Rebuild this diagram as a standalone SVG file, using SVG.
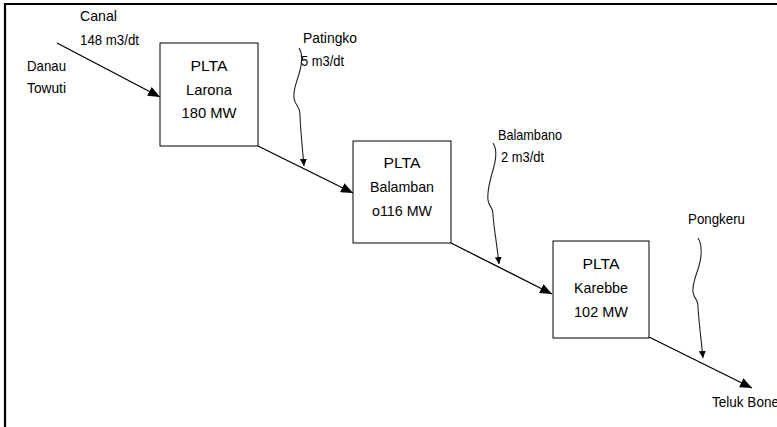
<svg xmlns="http://www.w3.org/2000/svg" width="777" height="427" viewBox="0 0 777 427">
  <defs>
    <marker id="arr" viewBox="0 0 12 10" refX="12" refY="5" markerWidth="12" markerHeight="10" markerUnits="userSpaceOnUse" orient="auto">
      <path d="M0,0 L12,5 L0,10 Z" fill="#000"/>
    </marker>
    <marker id="arrs" viewBox="0 0 7 7" refX="7" refY="3.5" markerWidth="7" markerHeight="7" markerUnits="userSpaceOnUse" orient="auto">
      <path d="M0,0 L7,3.5 L0,7 Z" fill="#000"/>
    </marker>
    <style>
      text { font-family: "Liberation Sans", Arial, sans-serif; font-size: 15px; fill: #000; }
      .box rect { fill: #fff; stroke: #000; stroke-width: 1; }
      .box text { text-anchor: middle; }
      .main { stroke: #000; stroke-width: 1.3; fill: none; marker-end: url(#arr); }
      .wave { stroke: #222; stroke-width: 1.1; fill: none; marker-end: url(#arrs); }
      .frame { stroke: #000; stroke-width: 2.2; fill: none; }
    </style>
  </defs>
  <rect width="777" height="427" fill="#fff"/>
  <path class="frame" d="M5,427 L5,4 L777,4"/>

  <g id="connectors">
    <line class="main" x1="57" y1="43" x2="160" y2="97"/>
    <line class="main" x1="258" y1="146" x2="353" y2="193"/>
    <line class="main" x1="451" y1="243" x2="552" y2="294"/>
    <line class="main" x1="649" y1="337" x2="752" y2="388"/>
    <path class="wave" d="M299,48 C303,54 302,64 299,74 S293,90 294,98 S300,106 300,114 S302,145 304,166"/>
    <path class="wave" d="M493,143 C497,149 496,160 493,170 S487,192 488,200 S493,206 493,214 S497,245 499,264"/>
    <path class="wave" d="M698,238 C702,244 702,256 699,266 S692,284 693,292 S698,298 698,306 S701,338 703,358"/>
  </g>

  <g id="src">
    <text x="27" y="71" textLength="39" lengthAdjust="spacingAndGlyphs">Danau</text>
    <text x="27" y="93" textLength="39" lengthAdjust="spacingAndGlyphs">Towuti</text>
  </g>
  <g id="canal">
    <text x="80" y="21" textLength="37" lengthAdjust="spacingAndGlyphs">Canal</text>
    <text x="80" y="45" textLength="59" lengthAdjust="spacingAndGlyphs">148 m3/dt</text>
  </g>
  <g id="larona" class="box">
    <rect x="160" y="43" width="98" height="103"/>
    <text x="209" y="71" textLength="37" lengthAdjust="spacingAndGlyphs">PLTA</text>
    <text x="209" y="95" textLength="46" lengthAdjust="spacingAndGlyphs">Larona</text>
    <text x="209" y="118" textLength="55" lengthAdjust="spacingAndGlyphs">180 MW</text>
  </g>
  <g id="balambano" class="box">
    <rect x="353" y="141" width="98" height="102"/>
    <text x="402" y="168" textLength="37" lengthAdjust="spacingAndGlyphs">PLTA</text>
    <text x="402" y="192" textLength="64" lengthAdjust="spacingAndGlyphs">Balamban</text>
    <text x="402" y="216" textLength="60" lengthAdjust="spacingAndGlyphs">o116 MW</text>
  </g>
  <g id="karebbe" class="box">
    <rect x="553" y="241" width="96" height="97"/>
    <text x="601" y="269" textLength="37" lengthAdjust="spacingAndGlyphs">PLTA</text>
    <text x="601" y="293" textLength="54" lengthAdjust="spacingAndGlyphs">Karebbe</text>
    <text x="601" y="317" textLength="54" lengthAdjust="spacingAndGlyphs">102 MW</text>
  </g>
  <g id="patingko">
    <text x="303" y="43" textLength="54" lengthAdjust="spacingAndGlyphs">Patingko</text>
    <text x="301" y="66" textLength="43" lengthAdjust="spacingAndGlyphs">5 m3/dt</text>
  </g>
  <g id="balambano-river">
    <text x="498" y="140" textLength="64" lengthAdjust="spacingAndGlyphs">Balambano</text>
    <text x="501" y="162" textLength="43" lengthAdjust="spacingAndGlyphs">2 m3/dt</text>
  </g>
  <g id="pongkeru">
    <text x="688" y="224" textLength="57" lengthAdjust="spacingAndGlyphs">Pongkeru</text>
  </g>
  <g id="teluk-bone">
    <text x="712" y="407" textLength="67" lengthAdjust="spacingAndGlyphs">Teluk Bone</text>
  </g>
</svg>
